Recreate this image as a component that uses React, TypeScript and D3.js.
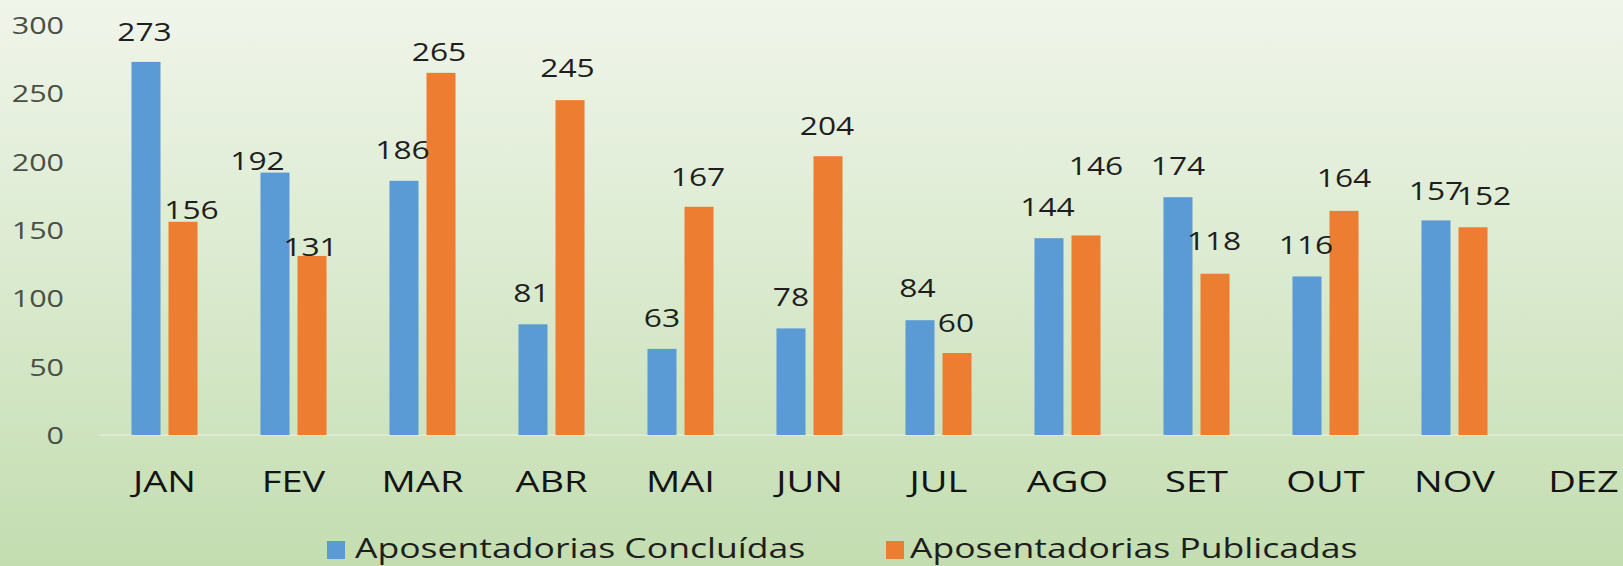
import React from "react";
import * as d3 from "d3";

const categories = ["JAN", "FEV", "MAR", "ABR", "MAI", "JUN", "JUL", "AGO", "SET", "OUT", "NOV", "DEZ"];
const concluidas: (number | null)[] = [273, 192, 186, 81, 63, 78, 84, 144, 174, 116, 157, null];
const publicadas: (number | null)[] = [156, 131, 265, 245, 167, 204, 60, 146, 118, 164, 152, null];
const yTicks = [0, 50, 100, 150, 200, 250, 300];
const seriesNames = ["Aposentadorias Concluídas", "Aposentadorias Publicadas"];
const seriesColors = ["#5b9bd5", "#ed7d31"];

// label nudges (dx, dy) relative to the default "above bar" placement
const labelNudgeC: [number, number][] = [
  [-1.5, 1], [-17.5, 19], [-1.5, 0], [-1.5, -0.5], [0, 0], [0, 0], [-2.5, -1], [-1.5, 0], [0, 0], [-1, 0], [0, 1.5], [0, 0],
];
const labelNudgeP: [number, number][] = [
  [8.5, 19], [-1.5, 22], [-2, 10], [-2.5, -1], [-1, 1], [-1, 1], [-1, 1], [10, -38.5], [-1, -2], [0, -1.5], [11, 0], [0, 0],
];

const W = 1623;
const H = 566;
const SX = 1.27;

function T(props: { x: number; y: number; anchor?: string; size: number; fill: string; children: React.ReactNode }) {
  const { x, y, anchor = "middle", size, fill, children } = props;
  return (
    <text
      transform={`translate(${x},${y}) scale(${SX},1)`}
      textAnchor={anchor}
      fontSize={size}
      fontFamily="'Open Sans', sans-serif"
      fill={fill}
    >
      {children}
    </text>
  );
}

export default function App() {
  const x0 = d3.scaleBand<string>().domain(categories).range([100, 1648]).paddingInner(0.488).paddingOuter(0.244);
  const x1 = d3.scaleBand<string>().domain(["c", "p"]).range([0, x0.bandwidth()]).paddingInner(0.216);
  const y = d3.scaleLinear().domain([0, 300]).range([435, 25]);

  const series = [
    { key: "c", values: concluidas, nudge: labelNudgeC, color: seriesColors[0] },
    { key: "p", values: publicadas, nudge: labelNudgeP, color: seriesColors[1] },
  ];

  return (
    <svg width={W} height={H} style={{ position: "absolute", left: 0, top: 0 }}>
      <defs>
        <linearGradient id="bg" x1="0" y1="0" x2="0" y2="1">
          <stop offset="0" stopColor="#f0f5ea" />
          <stop offset="0.45" stopColor="#dcebd1" />
          <stop offset="1" stopColor="#c3ddb0" />
        </linearGradient>
      </defs>
      <rect x={0} y={0} width={W} height={H} fill="url(#bg)" />

      {yTicks.map((t) => (
        <T key={t} x={64} y={y(t) + 9} anchor="end" size={24} fill="#4a4f45">
          {t}
        </T>
      ))}

      <line x1={100} x2={W} y1={y(0)} y2={y(0)} stroke="#e2eedb" strokeWidth={1.5} />

      {series.map((s) =>
        s.values.map((v, i) =>
          v == null ? null : (
            <rect
              key={s.key + i}
              x={(x0(categories[i]) as number) + (x1(s.key) as number)}
              y={y(v)}
              width={x1.bandwidth()}
              height={y(0) - y(v)}
              fill={s.color}
            />
          )
        )
      )}

      {series.map((s) =>
        s.values.map((v, i) =>
          v == null ? null : (
            <T
              key={"l" + s.key + i}
              x={(x0(categories[i]) as number) + (x1(s.key) as number) + x1.bandwidth() / 2 + s.nudge[i][0]}
              y={y(v) - 22 + s.nudge[i][1]}
              size={25}
              fill="#1e1e1e"
            >
              {v}
            </T>
          )
        )
      )}

      {categories.map((c) => (
        <T key={c} x={(x0(c) as number) + x0.bandwidth() / 2} y={492} size={30} fill="#141414">
          {c}
        </T>
      ))}

      <rect x={327} y={541} width={18} height={18} fill={seriesColors[0]} />
      <T x={355} y={558} anchor="start" size={28} fill="#1e1e1e">
        {seriesNames[0]}
      </T>
      <rect x={886} y={541} width={18} height={18} fill={seriesColors[1]} />
      <T x={910} y={558} anchor="start" size={28} fill="#1e1e1e">
        {seriesNames[1]}
      </T>
    </svg>
  );
}
